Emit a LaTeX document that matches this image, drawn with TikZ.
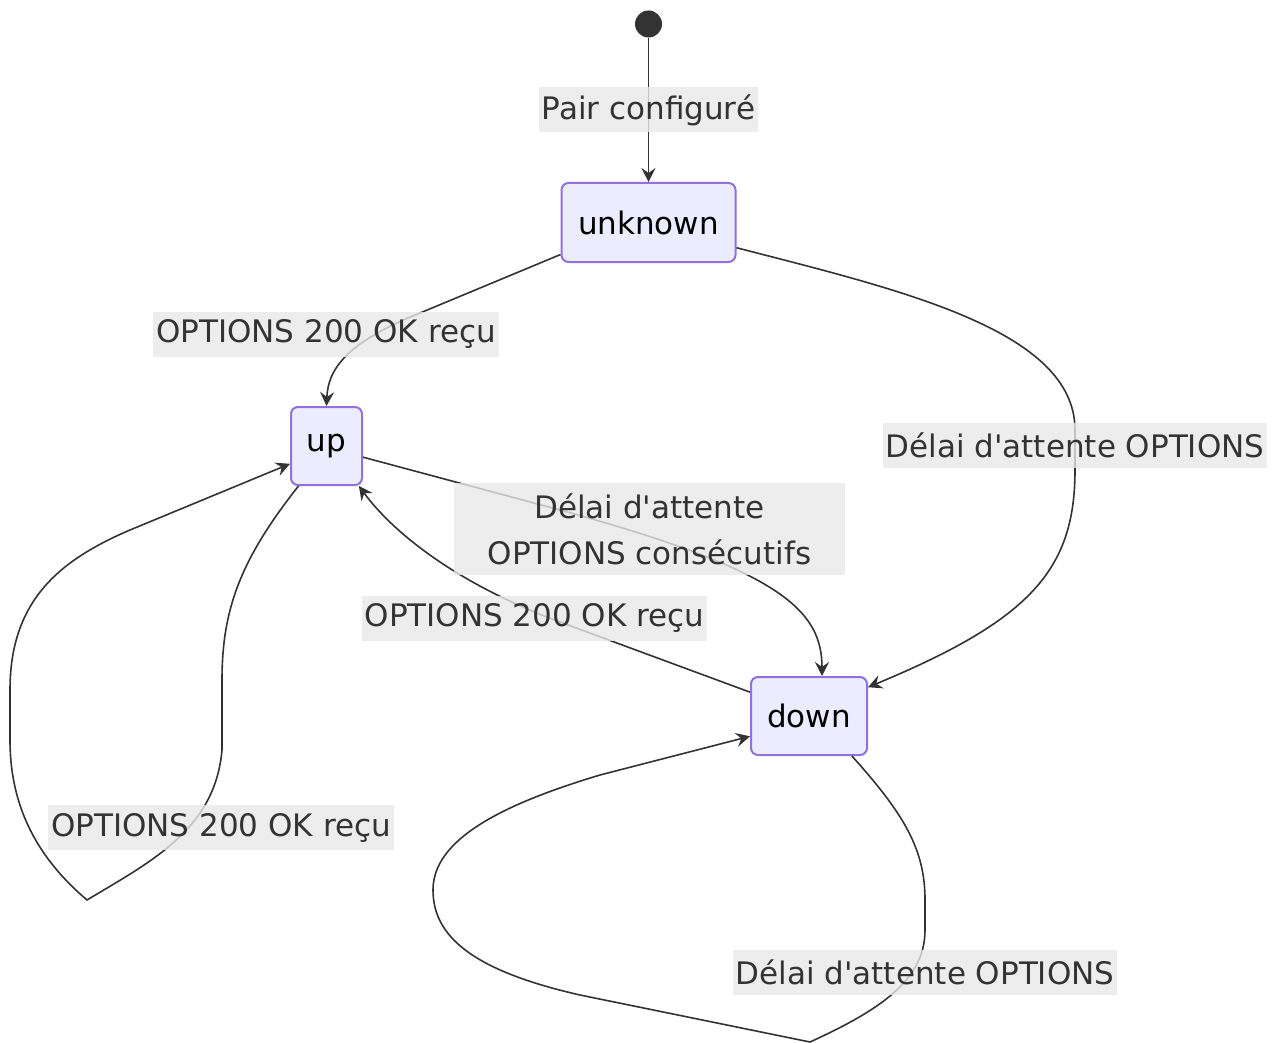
\documentclass[tikz,border=0pt]{standalone}
\usepackage{fontspec}
\setmainfont{DejaVu Sans}[Ligatures=TeXOff]
\usetikzlibrary{arrows.meta}
\definecolor{edgec}{HTML}{333333}
\definecolor{sfill}{HTML}{ECECFF}
\definecolor{sdraw}{HTML}{9370DB}
\definecolor{lblc}{HTML}{E8E8E8}
\begin{document}
\begin{tikzpicture}[x=1pt,y=-1pt,
  state/.style={draw=sdraw, fill=sfill, line width=2pt, rounded corners=7pt, inner sep=0pt,
    font=\fontsize{31}{36}\selectfont, text=black},
  elabel/.style={fill=lblc, fill opacity=0.8, text opacity=1, text=edgec, inner xsep=3pt,
    inner ysep=0pt, minimum height=45pt, font=\fontsize{31}{46}\selectfont},
  conn/.style={draw=edgec, line width=1.6pt, -{Stealth[length=14pt,width=14pt,inset=5pt]}}
]
\useasboundingbox (0,0) rectangle (1279,1043);

% states
\node[circle, fill=edgec, minimum size=27pt, inner sep=0pt] (start) at (648.5,24) {};
\node[state, minimum width=174pt, minimum height=79pt] (unknown) at (648.5,222.5) {unknown};
\node[state, minimum width=71pt, minimum height=78pt] (up) at (326.5,446) {up};
\node[state, minimum width=116pt, minimum height=78pt] (down) at (809,716) {down};

% connectors
\draw[conn] (start.south) -- (unknown.north);
\draw[conn] (unknown.200.5) -- (420,313) .. controls (345,343) and (328,370) .. (up.north);
\draw[conn] (unknown.-16) .. controls (900,290) and (1075,330) .. (1075,430) -- (1075,470)
   .. controls (1075,570) and (1030,620) .. (down.26);
\draw[conn] (up.-17) -- (560,510) .. controls (780,570) and (822,610) .. (down.72);
\draw[conn] (down.158) -- (560,622) .. controls (460,585) and (395,535) .. (up.-51);

% self loop on up
\coordinate (ucorner) at (87,900);
\draw[conn] (up.-125.7) .. controls (240,560) and (222,610) .. (222,680) -- (222,750)
   .. controls (215,830) and (150,862) .. (ucorner)
   .. controls (40,860) and (10,810) .. (10,740) -- (10,690)
   .. controls (10,600) and (60,560) .. (130,530) -- (up.206.3);

% self loop on down
\coordinate (dcorner) at (810,1042);
\draw[conn] (down.-43.6) .. controls (905,815) and (925,850) .. (925,900) -- (925,930)
   .. controls (925,980) and (880,1010) .. (dcorner)
   -- (580,995) .. controls (470,970) and (433,935) .. (433,890)
   .. controls (433,840) and (500,805) .. (600,775) -- (down.199.6);

% labels
\node[elabel] (l1) at (648.5,110) {Pair configuré};
\node[elabel] (l2) at (326,334) {OPTIONS 200 OK reçu};
\node[elabel] (l3) at (1075,445) {Délai d'attente OPTIONS};
\node[elabel, minimum width=391pt, minimum height=92pt, align=center] (l4) at (649.5,529)
   {Délai d'attente\\OPTIONS consécutifs};
\node[elabel] (l5) at (534.5,618) {OPTIONS 200 OK reçu};
\node[elabel] (l6) at (221,827.5) {OPTIONS 200 OK reçu};
\node[elabel] (l7) at (925,972.5) {Délai d'attente OPTIONS};
\end{tikzpicture}
\end{document}
